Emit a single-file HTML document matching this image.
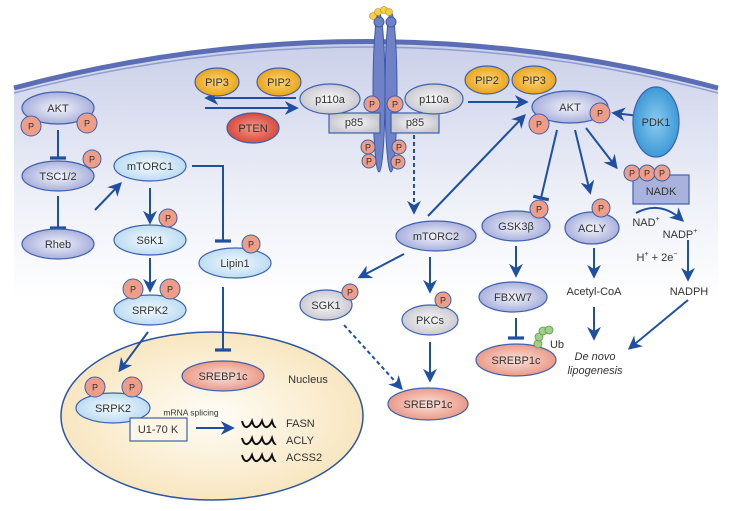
<!DOCTYPE html>
<html><head><meta charset="utf-8"><style>
html,body{margin:0;padding:0;background:#fff}
svg{display:block}
text{font-family:"Liberation Sans",sans-serif;fill:#333;text-anchor:middle;dominant-baseline:middle}
</style></head><body>
<svg width="732" height="511" viewBox="0 0 732 511" xmlns="http://www.w3.org/2000/svg">
<defs>
<linearGradient id="cell" x1="0" y1="0" x2="0" y2="1">
<stop offset="0" stop-color="#c9cfe8"/><stop offset="0.6" stop-color="#eef0f8"/><stop offset="1" stop-color="#fff"/></linearGradient>
<radialGradient id="lav"><stop offset="0" stop-color="#f4f5fb"/><stop offset="1" stop-color="#a9b0dc"/></radialGradient>
<radialGradient id="lb"><stop offset="0" stop-color="#f4fafe"/><stop offset="1" stop-color="#bcdcf2"/></radialGradient>
<radialGradient id="gr"><stop offset="0" stop-color="#fafafa"/><stop offset="1" stop-color="#c9c9d0"/></radialGradient>
<radialGradient id="sal"><stop offset="0" stop-color="#fbe3dc"/><stop offset="1" stop-color="#ea9a88"/></radialGradient>
<radialGradient id="or"><stop offset="0" stop-color="#fbd57a"/><stop offset="1" stop-color="#eba51c"/></radialGradient>
<radialGradient id="red"><stop offset="0" stop-color="#f29a8a"/><stop offset="1" stop-color="#d84a3c"/></radialGradient>
<radialGradient id="blue"><stop offset="0" stop-color="#8ccaf0"/><stop offset="1" stop-color="#3d9ad6"/></radialGradient>
<radialGradient id="nuc"><stop offset="0" stop-color="#fffdf7"/><stop offset="1" stop-color="#f8e6c0"/></radialGradient>
<marker id="ah" viewBox="0 0 10 10" refX="8" refY="5" markerWidth="7" markerHeight="7" orient="auto"><path d="M0,0 L10,5 L0,10 L3,5z" fill="#1f4fa0"/></marker>
<marker id="tb" viewBox="0 0 10 10" refX="5" refY="5" markerWidth="8" markerHeight="8" orient="auto"><path d="M5,0 L5,10" stroke="#1f4fa0" stroke-width="2"/></marker>
</defs>
<path d="M14,88 Q366,-5 718,88 L718,300 L14,300 Z" fill="url(#cell)"/>
<path d="M14,88 Q366,-5 718,88" fill="none" stroke="#5a6db5" stroke-width="5"/>
<path d="M14,93 Q366,1 718,93" fill="none" stroke="#8f9ed0" stroke-width="1.5"/>
<ellipse cx="379" cy="92" rx="6" ry="80" fill="#6f82c8" stroke="#3d5aa8"/>
<ellipse cx="391" cy="92" rx="6" ry="80" fill="#6f82c8" stroke="#3d5aa8"/>
<circle cx="379" cy="22" r="5" fill="#6f82c8" stroke="#3d5aa8"/><circle cx="391" cy="22" r="5" fill="#6f82c8" stroke="#3d5aa8"/>
<g fill="#f5cf4a" stroke="#b08a20" stroke-width=".6"><circle cx="373" cy="16" r="3.5"/><circle cx="378" cy="12" r="3.5"/><circle cx="384" cy="10" r="3.5"/><circle cx="389" cy="12" r="3.5"/></g>
<ellipse cx="212" cy="416" rx="151" ry="84" fill="url(#nuc)" stroke="#2c55a0" stroke-width="1.5"/>
<g stroke="#1f4fa0" stroke-width="2" fill="none">
<path d="M58,130 V158" marker-end="url(#tb)"/>
<path d="M58,196 V228" marker-end="url(#tb)"/>
<path d="M95,210 L120,184" marker-end="url(#ah)"/>
<path d="M150,188 V222" marker-end="url(#ah)"/>
<path d="M150,258 V290" marker-end="url(#ah)"/>
<path d="M192,166 H223 V241" marker-end="url(#tb)"/>
<path d="M223,287 V350" marker-end="url(#tb)"/>
<path d="M148,332 L120,370" marker-end="url(#ah)"/>
<path d="M196,428 H232" marker-end="url(#ah)"/>
<path d="M296,98 H207" marker-end="url(#ah)"/>
<path d="M205,108 H296" marker-end="url(#ah)"/>
<path d="M468,102 H526" marker-end="url(#ah)"/>
<path d="M648,117 L614,113" marker-end="url(#ah)"/>
<path d="M414,135 V212" stroke-dasharray="4,3" marker-end="url(#ah)"/>
<path d="M428,216 L524,116" marker-end="url(#ah)"/>
<path d="M557,130 L541,198" marker-end="url(#tb)"/>
<path d="M575,130 L590,192" marker-end="url(#ah)"/>
<path d="M586,128 L616,167" marker-end="url(#ah)"/>
<path d="M636,213 Q660,200 682,220" marker-end="url(#ah)"/>
<path d="M688,240 V279" marker-end="url(#ah)"/>
<path d="M516,246 V275" marker-end="url(#ah)"/>
<path d="M516,318 V338" marker-end="url(#tb)"/>
<path d="M594,248 V276" marker-end="url(#ah)"/>
<path d="M594,307 V338" marker-end="url(#ah)"/>
<path d="M688,300 L630,348" marker-end="url(#ah)"/>
<path d="M404,254 L360,277" marker-end="url(#ah)"/>
<path d="M430,257 V291" marker-end="url(#ah)"/>
<path d="M430,342 V380" marker-end="url(#ah)"/>
<path d="M344,325 L401,388" stroke-dasharray="4,3" marker-end="url(#ah)"/>
</g>
<g stroke="#3d62b0" stroke-width="1.2">
<ellipse cx="58" cy="108" rx="36" ry="16" fill="url(#lav)"/>
<ellipse cx="58" cy="176" rx="36" ry="15" fill="url(#lav)"/>
<ellipse cx="58" cy="244" rx="36" ry="15" fill="url(#lav)"/>
<ellipse cx="150" cy="166" rx="36" ry="15" fill="url(#lb)"/>
<ellipse cx="150" cy="240" rx="36" ry="15" fill="url(#lb)"/>
<ellipse cx="150" cy="310" rx="36" ry="15" fill="url(#lb)"/>
<ellipse cx="235" cy="263" rx="36" ry="15" fill="url(#lb)"/>
<ellipse cx="223" cy="376" rx="41" ry="15" fill="url(#sal)"/>
<ellipse cx="113" cy="408" rx="37" ry="15" fill="url(#lb)"/>
<rect x="130" y="418" width="57" height="23" fill="#fdf6e6"/>
<ellipse cx="217" cy="82" rx="22" ry="14" fill="url(#or)"/>
<ellipse cx="279" cy="82" rx="22" ry="14" fill="url(#or)"/>
<ellipse cx="253" cy="128" rx="26" ry="15" fill="url(#red)"/>
<rect x="329" y="113" width="51" height="20" fill="url(#gr)"/>
<rect x="391" y="113" width="48" height="20" fill="url(#gr)"/>
<ellipse cx="330" cy="99" rx="30" ry="15" fill="url(#gr)"/>
<ellipse cx="434" cy="99" rx="29" ry="15" fill="url(#gr)"/>
<ellipse cx="487" cy="80" rx="22" ry="14" fill="url(#or)"/>
<ellipse cx="534" cy="80" rx="22" ry="14" fill="url(#or)"/>
<ellipse cx="570" cy="107" rx="38" ry="16" fill="url(#lav)"/>
<ellipse cx="656" cy="122" rx="23" ry="35" fill="url(#blue)"/>
<ellipse cx="436" cy="236" rx="40" ry="15" fill="url(#lav)"/>
<ellipse cx="516" cy="226" rx="34" ry="15" fill="url(#lav)"/>
<ellipse cx="592" cy="228" rx="27" ry="16" fill="url(#lav)"/>
<rect x="633" y="175" width="56" height="29" fill="#a9b2dd"/>
<ellipse cx="513" cy="297" rx="34" ry="15" fill="url(#lav)"/>
<ellipse cx="516" cy="360" rx="40" ry="16" fill="url(#sal)"/>
<ellipse cx="326" cy="305" rx="26" ry="15" fill="url(#gr)"/>
<ellipse cx="430" cy="320" rx="28" ry="15" fill="url(#gr)"/>
<ellipse cx="428" cy="404" rx="40" ry="16" fill="url(#sal)"/>
</g>
<g fill="#9fd08a" stroke="#5f9a48" stroke-width=".8"><circle cx="538" cy="344" r="4"/><circle cx="539" cy="337" r="4"/><circle cx="543" cy="331" r="4"/><circle cx="549" cy="330" r="4"/></g>
<g fill="#ee9d88" stroke="#3d62b0" stroke-width="1">
<circle cx="31" cy="126" r="10"/><circle cx="87" cy="123" r="10"/><circle cx="92" cy="159" r="9"/>
<circle cx="168" cy="218" r="9"/><circle cx="133" cy="289" r="10"/><circle cx="170" cy="289" r="10"/>
<circle cx="251" cy="244" r="9"/><circle cx="95" cy="387" r="10"/><circle cx="132" cy="387" r="10"/>
<circle cx="372" cy="104" r="8"/><circle cx="395" cy="104" r="8"/><circle cx="368" cy="147" r="7"/><circle cx="369" cy="161" r="7"/><circle cx="399" cy="147" r="7"/><circle cx="398" cy="162" r="7"/>
<circle cx="539" cy="124" r="10"/><circle cx="600" cy="113" r="10"/>
<circle cx="539" cy="209" r="9"/><circle cx="601" cy="208" r="9"/>
<circle cx="632" cy="173" r="8"/><circle cx="647" cy="173" r="8"/><circle cx="662" cy="173" r="8"/>
<circle cx="350" cy="292" r="8"/><circle cx="443" cy="300" r="8"/>
</g>
<g font-size="9"><text x="31" y="127">P</text><text x="87" y="124">P</text><text x="92" y="160">P</text><text x="168" y="219">P</text><text x="133" y="290">P</text><text x="170" y="290">P</text><text x="251" y="245">P</text><text x="95" y="388">P</text><text x="132" y="388">P</text><text x="372" y="105">P</text><text x="395" y="105">P</text><text x="368" y="148">P</text><text x="369" y="162">P</text><text x="399" y="148">P</text><text x="398" y="163">P</text><text x="539" y="125">P</text><text x="600" y="114">P</text><text x="539" y="210">P</text><text x="601" y="209">P</text><text x="632" y="174">P</text><text x="647" y="174">P</text><text x="662" y="174">P</text><text x="350" y="293">P</text><text x="443" y="301">P</text></g>
<g font-size="11">
<text x="58" y="109">AKT</text><text x="58" y="177">TSC1/2</text><text x="58" y="245">Rheb</text>
<text x="150" y="167">mTORC1</text><text x="150" y="241">S6K1</text><text x="150" y="311">SRPK2</text>
<text x="235" y="264">Lipin1</text><text x="223" y="377">SREBP1c</text><text x="308" y="380">Nucleus</text>
<text x="113" y="409">SRPK2</text><text x="158" y="430">U1-70 K</text>
<text x="217" y="83">PIP3</text><text x="279" y="83">PIP2</text><text x="253" y="129">PTEN</text>
<text x="330" y="100">p110a</text><text x="354" y="123">p85</text><text x="415" y="123">p85</text><text x="434" y="100">p110a</text>
<text x="487" y="81">PIP2</text><text x="534" y="81">PIP3</text><text x="570" y="108">AKT</text><text x="656" y="123">PDK1</text>
<text x="436" y="237">mTORC2</text><text x="516" y="227">GSK3β</text><text x="592" y="229">ACLY</text><text x="661" y="192">NADK</text>
<text x="513" y="298">FBXW7</text><text x="516" y="361">SREBP1c</text><text x="557" y="345">Ub</text>
<text x="326" y="306">SGK1</text><text x="430" y="321">PKCs</text><text x="428" y="405">SREBP1c</text>
<text x="594" y="292">Acetyl-CoA</text><text x="689" y="292">NADPH</text>
<text x="646" y="223">NAD<tspan font-size="7" dy="-4">+</tspan></text>
<text x="680" y="235">NADP<tspan font-size="7" dy="-4">+</tspan></text>
<text x="657" y="258">H<tspan font-size="7" dy="-4">+</tspan><tspan dy="4"> + 2e</tspan><tspan font-size="7" dy="-4">−</tspan></text>
<text x="595" y="357" font-style="italic">De novo</text><text x="595" y="371" font-style="italic">lipogenesis</text>
<text x="286" y="424" style="text-anchor:start">FASN</text><text x="286" y="441" style="text-anchor:start">ACLY</text><text x="286" y="458" style="text-anchor:start">ACSS2</text>
</g>
<text x="191" y="413" font-size="8.5">mRNA splicing</text>
<g stroke="#111" stroke-width="2" fill="none">
<path d="M242,421 q2,7 5,6 q3,-1 5,-6 q2,7 5,6 q3,-1 5,-6 q2,7 5,6 q3,-1 5,-6 q2,7 4,6"/>
<path d="M242,438 q2,7 5,6 q3,-1 5,-6 q2,7 5,6 q3,-1 5,-6 q2,7 5,6 q3,-1 5,-6 q2,7 4,6"/>
<path d="M242,455 q2,7 5,6 q3,-1 5,-6 q2,7 5,6 q3,-1 5,-6 q2,7 5,6 q3,-1 5,-6 q2,7 4,6"/>
</g>
</svg>
</body></html>
